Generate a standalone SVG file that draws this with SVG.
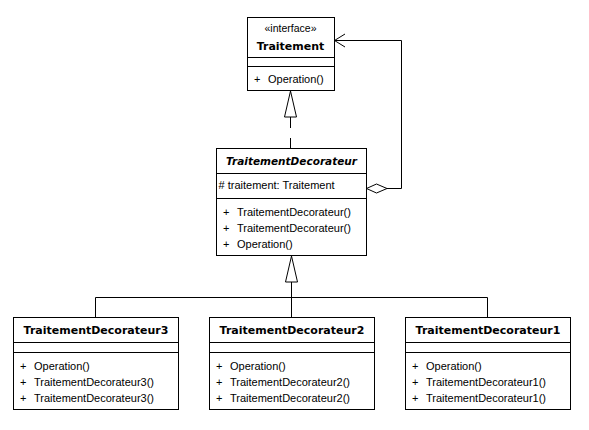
<svg xmlns="http://www.w3.org/2000/svg" width="589" height="430" viewBox="0 0 589 430">
<style>
  .box { fill: #ffffff; stroke: #000000; stroke-width: 1; }
  .div { stroke: #000000; stroke-width: 1; fill: none; }
  .t { font-family: "Liberation Sans", Arial, sans-serif; font-size: 11px; fill: #000000; }
  .st { font-family: "Liberation Sans", Arial, sans-serif; font-size: 10.5px; fill: #000000; text-anchor: middle; }
  .title { font-family: "DejaVu Sans", sans-serif; font-weight: bold; font-size: 11px; fill: #000000; text-anchor: middle; }
  .ititle { font-family: "DejaVu Sans", sans-serif; font-weight: bold; font-style: oblique; font-size: 10.5px; fill: #000000; text-anchor: middle; }
  .line { stroke: #000000; stroke-width: 1; fill: none; }
  .dash { stroke: #000000; stroke-width: 1; fill: none; stroke-dasharray: 11 10; }
  .tri { stroke: #000000; stroke-width: 1; fill: #ffffff; }
</style>
<rect x="0" y="0" width="589" height="430" fill="#ffffff"/>

<g id="connectors">
  <!-- realization: TraitementDecorateur -> Traitement -->
  <line class="dash" x1="290.5" y1="117" x2="290.5" y2="148"/>
  <polygon class="tri" points="290.5,91 284.5,117 296.5,117"/>
  <!-- aggregation / association: TraitementDecorateur -> Traitement -->
  <polyline class="line" points="387,188.5 401.5,188.5 401.5,40.5 334.5,40.5"/>
  <polyline class="line" points="345,34 334.5,40.5 345,47"/>
  <polygon class="tri" points="366.5,188.5 376.5,184 387,188.5 376.5,193"/>
  <!-- generalization: subclasses -> TraitementDecorateur -->
  <polyline class="line" points="95.5,317 95.5,297.5 487.5,297.5 487.5,317"/>
  <line class="line" x1="291.5" y1="282" x2="291.5" y2="317"/>
  <polygon class="tri" points="291.5,256 285.5,282 297.5,282"/>
</g>

<g id="Traitement">
  <rect class="box" x="247.5" y="17.5" width="87" height="73"/>
  <line class="div" x1="247.5" y1="57.5" x2="334.5" y2="57.5"/>
  <line class="div" x1="247.5" y1="66.5" x2="334.5" y2="66.5"/>
  <text class="st" x="290.5" y="32">«interface»</text>
  <text class="title" x="290.5" y="50">Traitement</text>
  <text class="t" x="254" y="83">+</text>
  <text class="t" x="268" y="83">Operation()</text>
</g>

<g id="TraitementDecorateur">
  <rect class="box" x="216.5" y="148.5" width="150" height="107"/>
  <line class="div" x1="216.5" y1="173.5" x2="366.5" y2="173.5"/>
  <line class="div" x1="216.5" y1="198.5" x2="366.5" y2="198.5"/>
  <text class="ititle" x="291.5" y="164.5">TraitementDecorateur</text>
  <text class="t" x="218.5" y="189">#  traitement: Traitement</text>
  <text class="t" x="223" y="215.5">+</text>
  <text class="t" x="237" y="215.5">TraitementDecorateur()</text>
  <text class="t" x="223" y="231.5">+</text>
  <text class="t" x="237" y="231.5">TraitementDecorateur()</text>
  <text class="t" x="223" y="247.5">+</text>
  <text class="t" x="237" y="247.5">Operation()</text>
</g>

<g id="TraitementDecorateur3">
  <rect class="box" x="13.5" y="317.5" width="165" height="92"/>
  <line class="div" x1="13.5" y1="342.5" x2="178.5" y2="342.5"/>
  <line class="div" x1="13.5" y1="352.5" x2="178.5" y2="352.5"/>
  <text class="title" x="96" y="334">TraitementDecorateur3</text>
  <text class="t" x="20" y="370">+</text>
  <text class="t" x="34" y="370">Operation()</text>
  <text class="t" x="20" y="386">+</text>
  <text class="t" x="34" y="386">TraitementDecorateur3()</text>
  <text class="t" x="20" y="402">+</text>
  <text class="t" x="34" y="402">TraitementDecorateur3()</text>
</g>

<g id="TraitementDecorateur2">
  <rect class="box" x="209.5" y="317.5" width="165" height="92"/>
  <line class="div" x1="209.5" y1="342.5" x2="374.5" y2="342.5"/>
  <line class="div" x1="209.5" y1="352.5" x2="374.5" y2="352.5"/>
  <text class="title" x="292" y="334">TraitementDecorateur2</text>
  <text class="t" x="216" y="370">+</text>
  <text class="t" x="230" y="370">Operation()</text>
  <text class="t" x="216" y="386">+</text>
  <text class="t" x="230" y="386">TraitementDecorateur2()</text>
  <text class="t" x="216" y="402">+</text>
  <text class="t" x="230" y="402">TraitementDecorateur2()</text>
</g>

<g id="TraitementDecorateur1">
  <rect class="box" x="405.5" y="317.5" width="165" height="92"/>
  <line class="div" x1="405.5" y1="342.5" x2="570.5" y2="342.5"/>
  <line class="div" x1="405.5" y1="352.5" x2="570.5" y2="352.5"/>
  <text class="title" x="488" y="334">TraitementDecorateur1</text>
  <text class="t" x="412" y="370">+</text>
  <text class="t" x="426" y="370">Operation()</text>
  <text class="t" x="412" y="386">+</text>
  <text class="t" x="426" y="386">TraitementDecorateur1()</text>
  <text class="t" x="412" y="402">+</text>
  <text class="t" x="426" y="402">TraitementDecorateur1()</text>
</g>
</svg>
